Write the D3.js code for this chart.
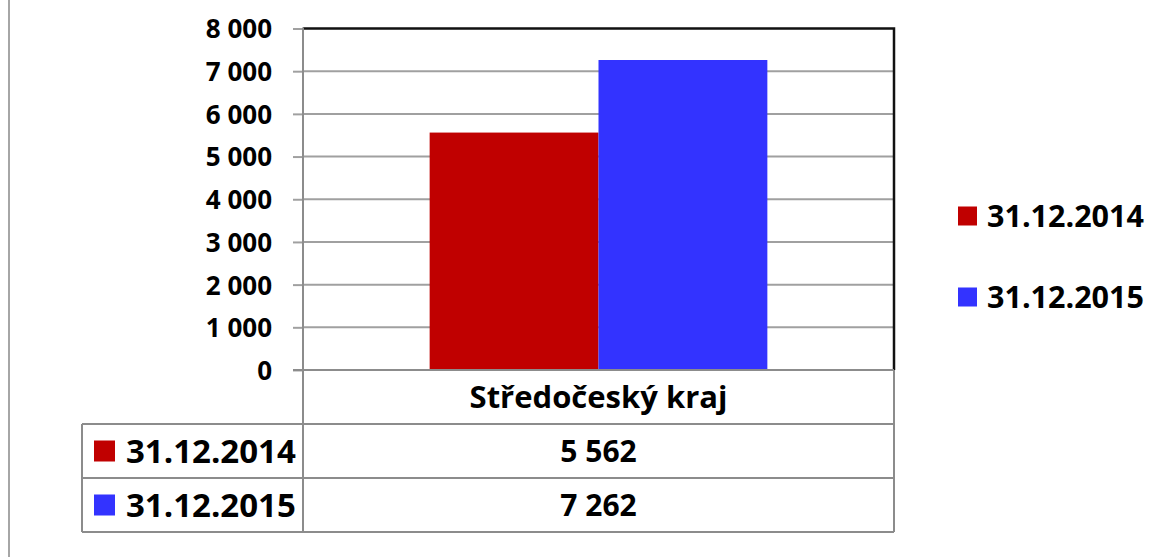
<!DOCTYPE html>
<html>
<head>
<meta charset="utf-8">
<script src="https://cdnjs.cloudflare.com/ajax/libs/d3/7.8.5/d3.min.js"></script>
<style>
  body { margin: 0; background: #fff; }
  text { font-family: "Open Sans", sans-serif; font-weight: bold; fill: #000; }
</style>
</head>
<body>
<svg id="chart" width="1168" height="557"></svg>
<script>
// data
var categories = ["Středočeský kraj"];
var seriesNames = ["31.12.2014", "31.12.2015"];
var seriesColors = ["#c00000", "#3333ff"];
var values2014 = [5562];
var values2015 = [7262];
var yTicks = [0, 1000, 2000, 3000, 4000, 5000, 6000, 7000, 8000];

(function() {
  var series = [values2014, values2015];
  var svg = d3.select("#chart");
  var fmt = function(d) { return d3.format(",")(d).replace(/,/g, " "); };

  var plotLeft = 303, plotRight = 894, plotTop = 28.5, plotBottom = 370;
  var rowH = 54;
  var gridColor = "#a0a0a0", tableColor = "#8c8c8c";

  // outer frame line at the far left
  svg.append("line")
    .attr("x1", 9).attr("x2", 9).attr("y1", 0).attr("y2", 557)
    .attr("stroke", "#a6a6a6").attr("stroke-width", 2);

  var y = d3.scaleLinear().domain([0, 8000]).range([plotBottom, plotTop]);
  var x = d3.scaleBand().domain(categories).range([plotLeft, plotRight]);
  var xs = d3.scaleBand().domain(d3.range(series.length))
    .range([0, x.bandwidth()]).paddingOuter(0.75).paddingInner(0);

  // gridlines
  svg.append("g").selectAll("line")
    .data(yTicks.filter(function(d) { return d > 0 && d < 8000; }))
    .enter().append("line")
    .attr("x1", plotLeft).attr("x2", plotRight)
    .attr("y1", function(d) { return y(d); }).attr("y2", function(d) { return y(d); })
    .attr("stroke", gridColor).attr("stroke-width", 2);

  // bars
  categories.forEach(function(c, ci) {
    series.forEach(function(s, si) {
      svg.append("rect")
        .attr("x", x(c) + xs(si))
        .attr("width", xs.bandwidth())
        .attr("y", y(s[ci]))
        .attr("height", plotBottom - y(s[ci]))
        .attr("fill", seriesColors[si]);
    });
  });

  // plot border: black top and right
  svg.append("path")
    .attr("d", "M" + plotLeft + "," + plotTop + "H" + plotRight + "V" + plotBottom)
    .attr("fill", "none").attr("stroke", "#111").attr("stroke-width", 2.5);

  // y axis
  var yAxis = d3.axisLeft(y).tickValues(yTicks).tickSize(10).tickPadding(21)
    .tickFormat(fmt);
  var ga = svg.append("g").attr("transform", "translate(" + plotLeft + ",0)").call(yAxis);
  ga.select(".domain").remove();
  ga.selectAll(".tick line").attr("stroke", gridColor).attr("stroke-width", 2);
  ga.selectAll(".tick text").style("font-size", "26px").attr("dy", "0.36em");
  svg.append("line")
    .attr("x1", plotLeft).attr("x2", plotLeft).attr("y1", plotTop - 1).attr("y2", plotBottom + 3 * rowH)
    .attr("stroke", tableColor).attr("stroke-width", 2);
  svg.append("line")
    .attr("x1", plotLeft - 10).attr("x2", plotRight).attr("y1", plotBottom).attr("y2", plotBottom)
    .attr("stroke", tableColor).attr("stroke-width", 2);

  // data table
  var tableLeft = 82;
  var tbl = svg.append("g");
  [1, 2, 3].forEach(function(r) {
    tbl.append("line")
      .attr("x1", tableLeft).attr("x2", plotRight)
      .attr("y1", plotBottom + r * rowH).attr("y2", plotBottom + r * rowH)
      .attr("stroke", tableColor).attr("stroke-width", 2);
  });
  tbl.append("line")
    .attr("x1", tableLeft).attr("x2", tableLeft).attr("y1", plotBottom + rowH).attr("y2", plotBottom + 3 * rowH)
    .attr("stroke", tableColor).attr("stroke-width", 2);
  tbl.append("line")
    .attr("x1", plotRight).attr("x2", plotRight).attr("y1", plotBottom).attr("y2", plotBottom + 3 * rowH)
    .attr("stroke", tableColor).attr("stroke-width", 2);

  categories.forEach(function(c) {
    tbl.append("text")
      .attr("x", x(c) + x.bandwidth() / 2).attr("y", plotBottom + rowH / 2)
      .attr("dy", "0.36em").attr("text-anchor", "middle")
      .style("font-size", "31px").text(c);
  });

  seriesNames.forEach(function(name, si) {
    var cy = plotBottom + (si + 1.5) * rowH;
    tbl.append("rect")
      .attr("x", 94).attr("y", cy - 10.5).attr("width", 21).attr("height", 21)
      .attr("fill", seriesColors[si]);
    tbl.append("text")
      .attr("x", 126).attr("y", cy).attr("dy", "0.36em")
      .style("font-size", "33px").text(name);
    categories.forEach(function(c, ci) {
      tbl.append("text")
        .attr("x", x(c) + x.bandwidth() / 2).attr("y", cy).attr("dy", "0.36em")
        .attr("text-anchor", "middle").style("font-size", "30px")
        .text(fmt(series[si][ci]));
    });
  });

  // legend on the right
  var legend = svg.append("g");
  seriesNames.forEach(function(name, si) {
    var cy = 216 + si * 81;
    legend.append("rect")
      .attr("x", 958).attr("y", cy - 9.5).attr("width", 19).attr("height", 19)
      .attr("fill", seriesColors[si]);
    legend.append("text")
      .attr("x", 987).attr("y", cy).attr("dy", "0.36em")
      .style("font-size", "30.5px").text(name);
  });
})();
</script>
</body>
</html>
